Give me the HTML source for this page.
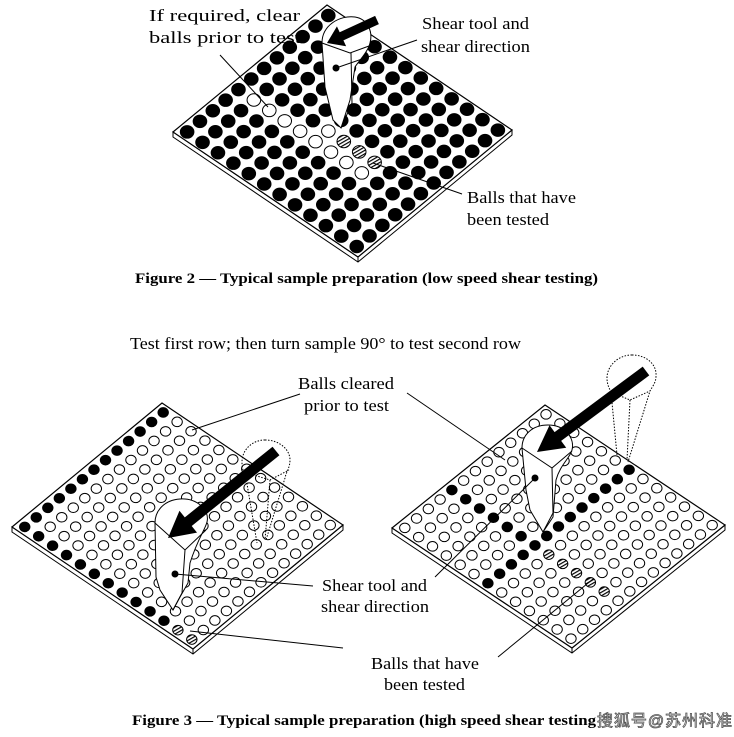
<!DOCTYPE html>
<html><head><meta charset="utf-8"><style>
html,body{margin:0;padding:0;background:#fff;}
svg{display:block;}
text{font-family:"Liberation Serif",serif;fill:#000;}
</style></head><body>
<svg id="s" width="734" height="737" viewBox="0 0 734 737" xmlns="http://www.w3.org/2000/svg">
<defs>
<pattern id="hp" width="3" height="3" patternUnits="userSpaceOnUse" patternTransform="rotate(-30)">
<rect width="3" height="3" fill="#fff"/><rect width="3" height="1.2" fill="#000"/>
</pattern>
</defs>
<g id="g"></g>
<g font-size="17" lengthAdjust="spacingAndGlyphs">
<text x="149" y="21" textLength="151" lengthAdjust="spacingAndGlyphs">If required, clear</text>
<text x="149" y="43" textLength="152" lengthAdjust="spacingAndGlyphs">balls prior to test</text>
<text x="422" y="29" textLength="107" lengthAdjust="spacingAndGlyphs">Shear tool and</text>
<text x="421" y="52" textLength="109" lengthAdjust="spacingAndGlyphs">shear direction</text>
<text x="467" y="203" textLength="109" lengthAdjust="spacingAndGlyphs">Balls that have</text>
<text x="467" y="225" textLength="82" lengthAdjust="spacingAndGlyphs">been tested</text>
<text x="130" y="349" textLength="391" lengthAdjust="spacingAndGlyphs">Test first row; then turn sample 90° to test second row</text>
<text x="298" y="389" textLength="96" lengthAdjust="spacingAndGlyphs">Balls cleared</text>
<text x="304" y="411" textLength="85" lengthAdjust="spacingAndGlyphs">prior to test</text>
<text x="322" y="591" textLength="105" lengthAdjust="spacingAndGlyphs">Shear tool and</text>
<text x="321" y="612" textLength="108" lengthAdjust="spacingAndGlyphs">shear direction</text>
<text x="371" y="669" textLength="108" lengthAdjust="spacingAndGlyphs">Balls that have</text>
<text x="384" y="690" textLength="81" lengthAdjust="spacingAndGlyphs">been tested</text>
</g>
<g font-size="15" font-weight="bold">
<text x="135" y="283" textLength="463" lengthAdjust="spacingAndGlyphs">Figure 2 — Typical sample preparation (low speed shear testing)</text>
<text x="132" y="725" textLength="464" lengthAdjust="spacingAndGlyphs">Figure 3 — Typical sample preparation (high speed shear testing</text>
</g>
<text x="597" y="726" font-size="16" textLength="135" style="font-family:'Liberation Sans','Noto Sans CJK SC',sans-serif;fill:#fff;stroke:#555;stroke-width:0.8">搜狐号@苏州科准</text>
</svg>
<script>
var NS="http://www.w3.org/2000/svg",G=document.getElementById("g");
function el(t,a){var e=document.createElementNS(NS,t);for(var k in a)e.setAttribute(k,a[k]);G.appendChild(e);return e;}
function board(T,R,L,n,r,type,th){
 var B=[R[0]+L[0]-T[0],R[1]+L[1]-T[1]];
 el("polygon",{points:[L,B,R,[R[0],R[1]+th],[B[0],B[1]+th],[L[0],L[1]+th]].join(" "),fill:"#fff",stroke:"#000","stroke-width":1});
 el("line",{x1:B[0],y1:B[1],x2:B[0],y2:B[1]+th,stroke:"#000"});
 el("polygon",{points:[T,R,B,L].join(" "),fill:"#fff",stroke:"#000","stroke-width":1.2});
 var u=[R[0]-T[0],R[1]-T[1]],v=[L[0]-T[0],L[1]-T[1]];
 for(var i=0;i<n;i++)for(var j=0;j<n;j++){
  var a=(i+.5)/n,b=(j+.5)/n,x=T[0]+a*u[0]+b*v[0],y=T[1]+a*u[1]+b*v[1],t=type(i,j);
  el("ellipse",{cx:x,cy:y,rx:r,ry:r*0.92,fill:t=="b"?"#000":(t=="h"?"url(#hp)":"#fff"),stroke:"#000","stroke-width":1});
 }
}
function arrow(x1,y1,x2,y2,sw,hw,hl){
 var dx=x2-x1,dy=y2-y1,L=Math.hypot(dx,dy),ux=dx/L,uy=dy/L,nx=-uy,ny=ux;
 var bx=x2-ux*hl,by=y2-uy*hl;
 var p=[[x1+nx*sw/2,y1+ny*sw/2],[bx+nx*sw/2,by+ny*sw/2],[bx+nx*hw/2,by+ny*hw/2],[x2,y2],[bx-nx*hw/2,by-ny*hw/2],[bx-nx*sw/2,by-ny*sw/2],[x1-nx*sw/2,y1-ny*sw/2]];
 el("polygon",{points:p.join(" "),fill:"#000"});
}
function path(d,o){o=o||{};var a={d:d,fill:o.fill||"none",stroke:"#000","stroke-width":o.w||1};if(o.dash)a["stroke-dasharray"]=o.dash;el("path",a);}
function dot(x,y){el("circle",{cx:x,cy:y,r:3.5,fill:"#000"});}
function line(x1,y1,x2,y2){el("line",{x1:x1,y1:y1,x2:x2,y2:y2,stroke:"#000","stroke-width":1});}

/* Top board */
board([327,5],[512,130],[173,132],12,6.8,function(i,j){
 if(j==7&&i>=1&&i<=8)return"w"; if(j==6&&i==5)return"w"; if(j==6&&i>=6&&i<=8)return"h"; return"b";},5);
path("M322,43 C322,25 340,15 355,17 C368,19 373,32 370,43 C368,52 358,62 355,67 L350,100 L341,128 L333,120 L325,87 Z",{fill:"#fff"});
path("M322,43 L350,53 L369,46");path("M351,53 L352,103 L341,128");
arrow(377,20,327,43,9,22,16);
dot(336,68);line(336,68,417,40);
line(220,55,268,107);line(373,163,462,194);

/* Bottom-left board */
board([162,403],[343,525],[12,527],13,5.2,function(i,j){
 if(j==12&&i>=11)return"h"; if(i==0||j==12)return"b"; return"w";},5);
path("M265,440 C252,440 242,450 242,462 C242,470 244,472 246,478 L257,543 M265,440 C280,440 290,450 290,460 C290,468 286,472 285,478 L266,540 M244,472 L270,480 L289,470 M270,480 L265,540",{dash:"1.5,1.5"});
path("M155,523 C155,510 165,500 180,499 C197,498 210,510 207,522 C205,530 198,538 190,563 L188,583 L180,597 L173,610 L160,590 L156,577 Z",{fill:"#fff"});
path("M155,523 L185,550 L206,530");path("M185,550 L182,593 L173,610");
arrow(276,451,168,538,11,28,26);
dot(175,574);line(175,574,313,586);
line(300,394,192,430);line(190,631,343,648);

/* Bottom-right board */
board([545,405],[725,525],[392,528],13,5.2,function(i,j){
 if(i==6)return"b"; if(j==8&&i<6)return"b"; if(j==8&&i>=7&&i<=11)return"h"; return"w";},5);
path("M632,355 C618,355 607,366 607,378 C607,384 609,388 611,392 L617,455 M632,355 C647,355 657,365 656,376 C656,383 652,387 650,391 L628,462 M611,392 L630,400 L650,391 M630,400 L627,460",{dash:"1.5,1.5"});
path("M522,448 C522,435 532,425 548,425 C565,425 575,438 572,450 C570,458 560,465 556,480 L553,517 L543,532 L530,510 L526,490 Z",{fill:"#fff"});
path("M522,448 L552,468 L572,451");path("M552,468 L553,513 L543,532");
arrow(646,371,537,452,11,28,26);
dot(535,478);line(535,478,435,577);
line(407,393,505,460);line(498,657,593,579);
</script>
</body></html>
